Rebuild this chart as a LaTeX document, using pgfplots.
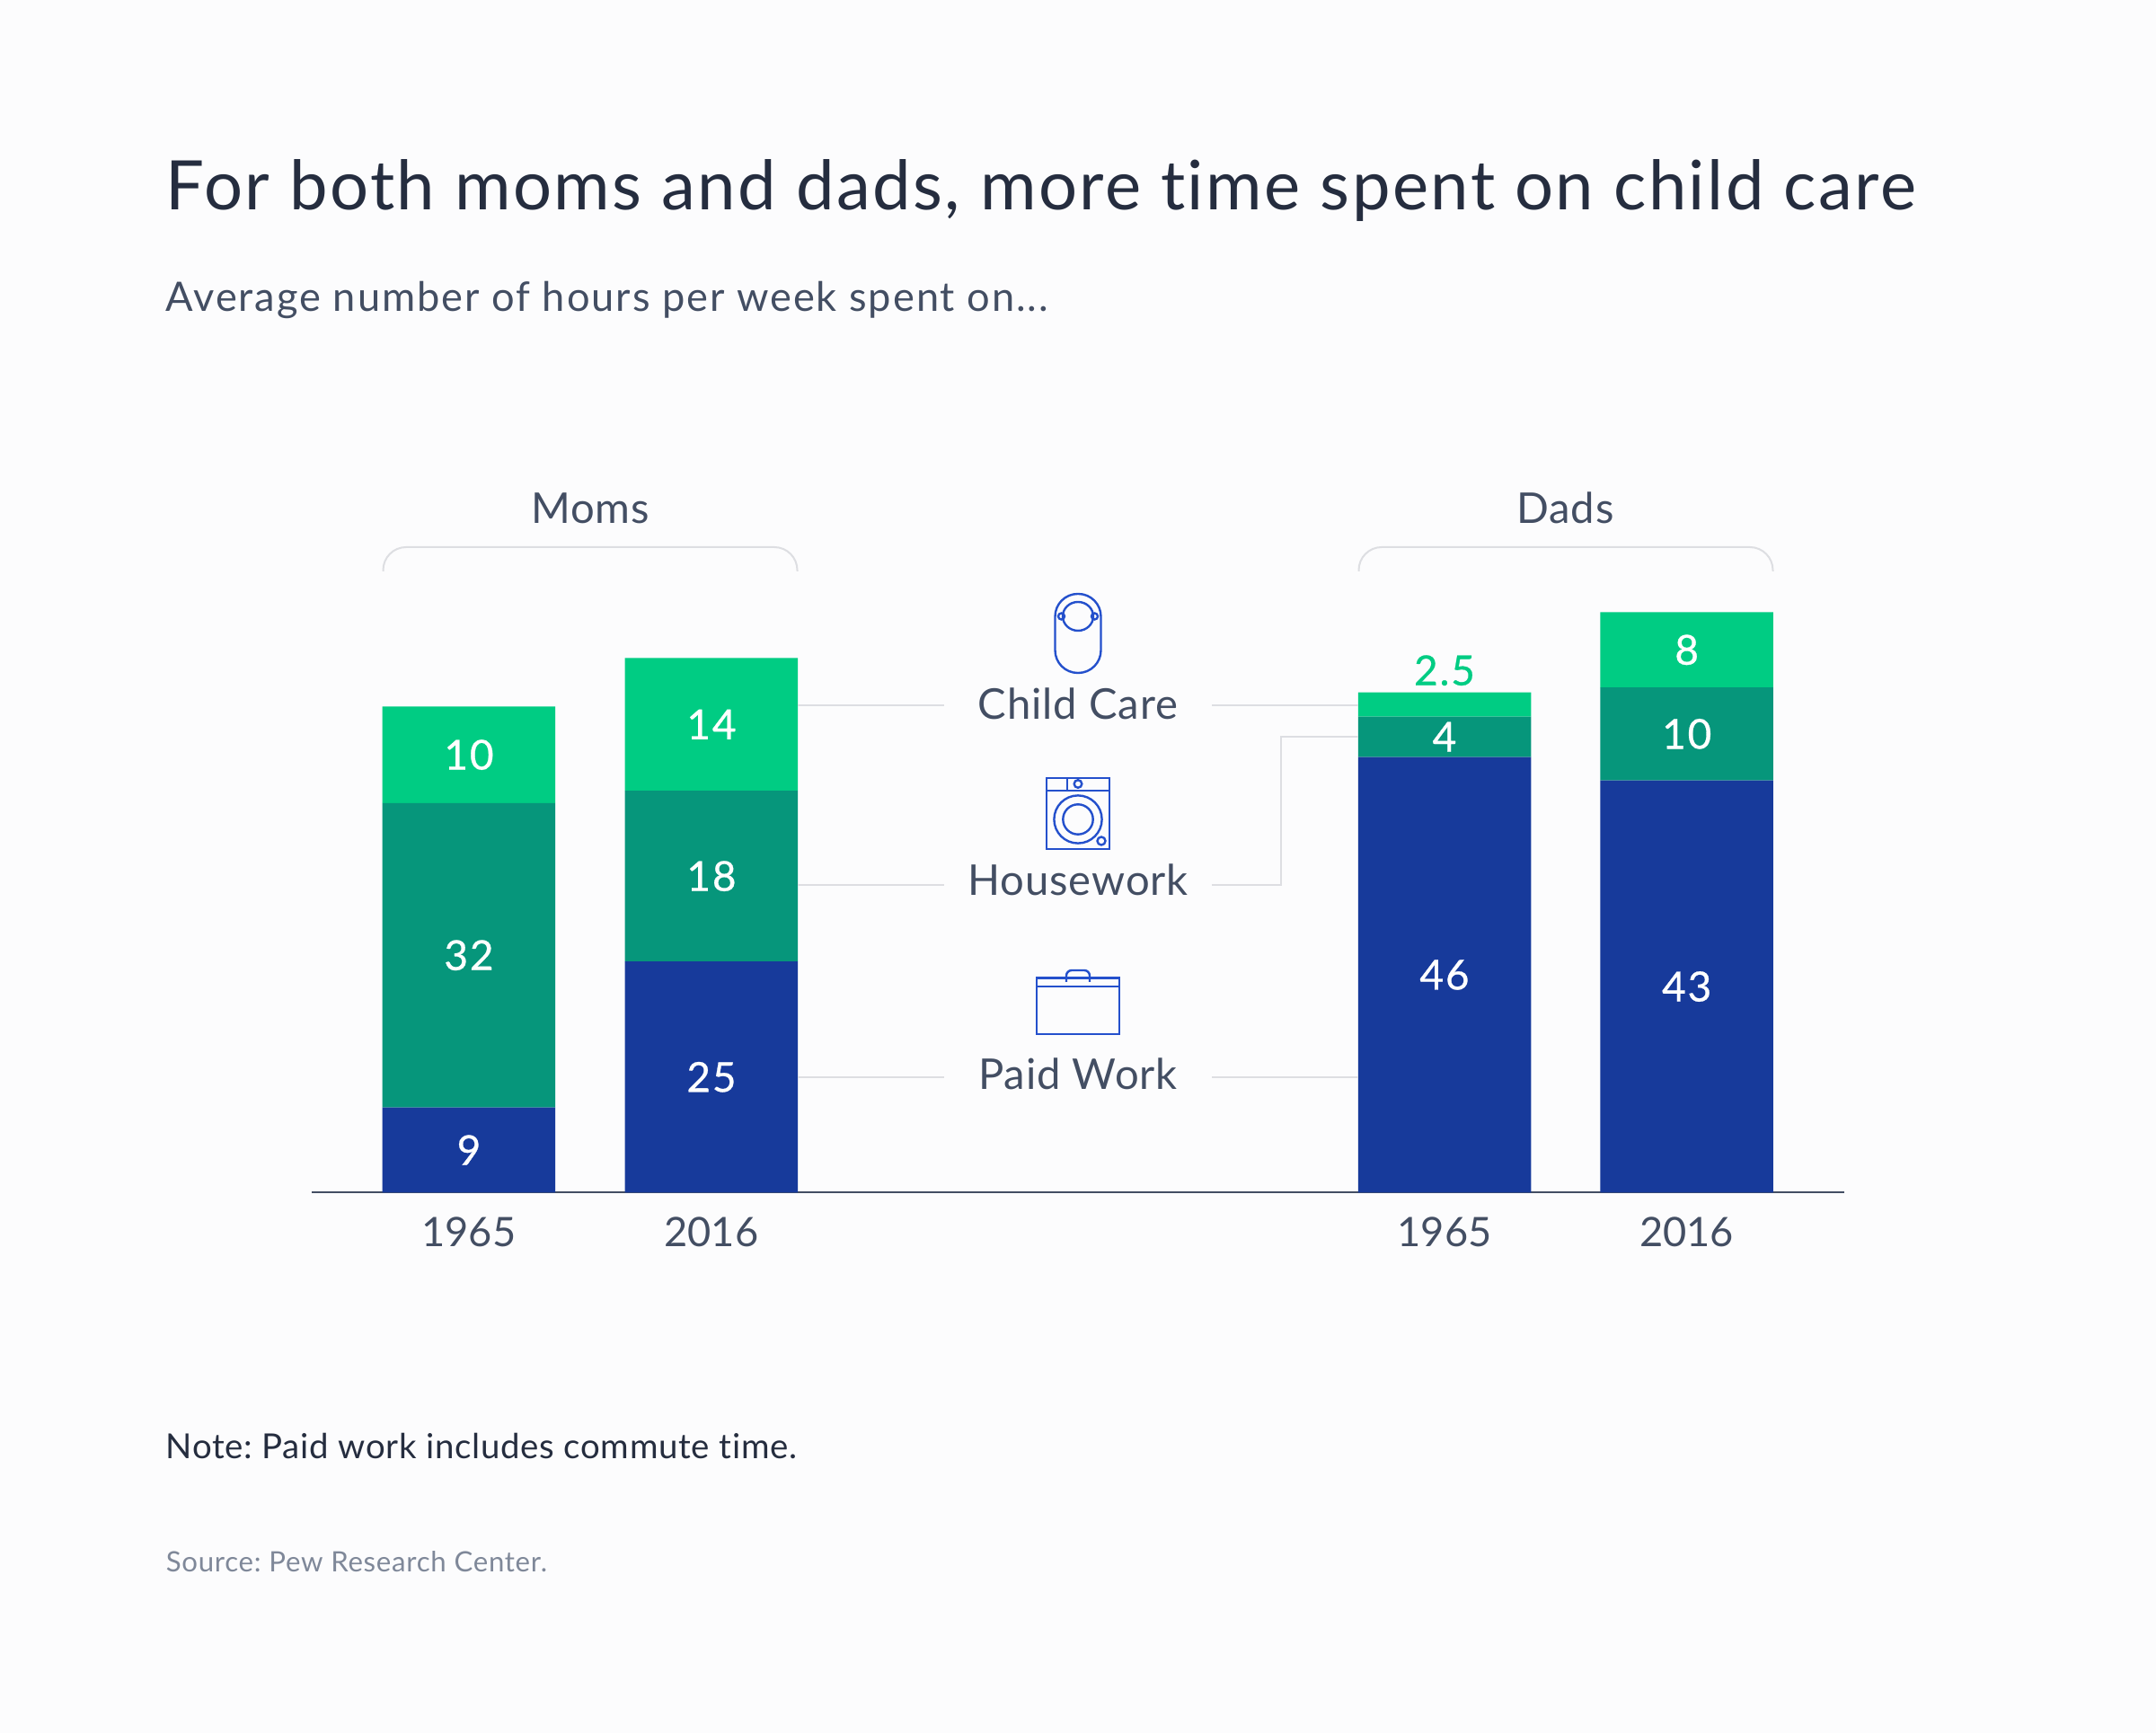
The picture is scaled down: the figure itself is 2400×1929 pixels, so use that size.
\documentclass[border=0pt]{standalone}
\usepackage{fontspec}
\usepackage{pgfplots}
\usepackage{pgfplotstable}
\pgfplotsset{compat=1.18}
\setmainfont{Lato}[Ligatures=CommonOff]
\newfontfamily\titlefont{Lato}[Ligatures=CommonOff,LetterSpace=3.25]
\newfontfamily\subfont{Lato}[Ligatures=CommonOff,LetterSpace=4.3]
\newfontfamily\notefont{Lato}[Ligatures=CommonOff,LetterSpace=1.8]
\newfontfamily\srcfont{Lato}[Ligatures=CommonOff,LetterSpace=2.3]
\newfontfamily\labfont{Lato}[Ligatures=CommonOff,LetterSpace=2]
\newfontfamily\valfont{Lato}[FakeBold=0.6,LetterSpace=4]
\frenchspacing

\definecolor{bgc}{HTML}{FCFCFD}
\definecolor{child}{HTML}{00CC83}
\definecolor{house}{HTML}{06967B}
\definecolor{paid}{HTML}{173A9B}
\definecolor{ink}{HTML}{252D3F}
\definecolor{slate}{HTML}{434E63}
\definecolor{mute}{HTML}{7F8899}
\definecolor{rule}{HTML}{DDDEE2}
\definecolor{icon}{HTML}{2450CC}

% x = bar position, h = bar height, lab = printed value
\pgfplotstableread{
x h lab
0 9.0 9
1 24.4 25
4.0222 45.95 46
5.0211 43.5 43
}\paidwork
\pgfplotstableread{
x h lab
0 32.1 32
1 18.0 18
4.0222 4.27 4
5.0211 9.8 10
}\housework
\pgfplotstableread{
x h lab
0 10.2 10
1 14.0 14
4.0222 2.56 {}
5.0211 7.94 8
}\childcare

\begin{document}
\begin{tikzpicture}[x=0.25pt,y=0.25pt]
\fill[bgc] (0,0) rectangle (2400,1929);
\begin{axis}[
    at={(86.75pt,150.375pt)},
    anchor=south west,
    scale only axis,
    width=426.375pt,
    height=163.525pt,
    xmin=-0.6481, xmax=5.6685,
    ymin=0, ymax=62,
    ybar stacked,
    bar width=48.125pt,
    clip=false,
    axis x line*=bottom,
    axis y line=none,
    x axis line style={color=slate,line width=0.5pt},
    major tick length=0pt,
    xtick={0,1,4.0222,5.0211},
    xticklabels={1965,2016,1965,2016},
    xticklabel style={font=\fontsize{11.3}{13}\selectfont,text=slate,yshift=-3.4pt},
    point meta=explicit symbolic,
    nodes near coords,
    every node near coord/.style={anchor=center,inner sep=0pt,text=white,
        font=\fontsize{11.5}{13}\valfont},
]
\addplot[fill=paid,draw=none] table[x=x,y=h,meta=lab] {\paidwork};
\addplot[fill=house,draw=none] table[x=x,y=h,meta=lab] {\housework};
\addplot[fill=child,draw=none] table[x=x,y=h,meta=lab] {\childcare};
\node[anchor=center,inner sep=0pt,text=child,font=\fontsize{11.5}{13}\valfont] at (axis cs:4.0222,55.1) {2.5};
\end{axis}

\begin{scope}[yscale=-1,yshift=-1929*0.25pt]
% titles and notes
\node[anchor=base west,inner sep=0pt,text=ink,font=\fontsize{19}{22}\titlefont] at (184,234) {For both moms and dads, more time spent on child care};
\node[anchor=base west,inner sep=0pt,text=slate,font=\fontsize{11.3}{13}\subfont] at (184,346.5) {Average number of hours per week spent on...};
\node[anchor=base west,inner sep=0pt,text=ink,font=\fontsize{9.6}{12}\notefont] at (184,1623.5) {Note: Paid work includes commute time.};
\node[anchor=base west,inner sep=0pt,text=mute,font=\fontsize{7.8}{9}\srcfont] at (184,1749) {Source: Pew Research Center.};
% group heads
\node[anchor=base,inner sep=0pt,text=slate,font=\fontsize{11.8}{13}\labfont] at (657,583) {Moms};
\node[anchor=base,inner sep=0pt,text=slate,font=\fontsize{11.8}{13}\labfont] at (1742.5,583) {Dads};
\draw[rule,line width=0.5pt,rounded corners=6.4pt] (426.5,636) -- (426.5,609) -- (887.5,609) -- (887.5,636);
\draw[rule,line width=0.5pt,rounded corners=6.4pt] (1512.5,636) -- (1512.5,609) -- (1973.5,609) -- (1973.5,636);
% leader lines
\draw[rule,line width=0.5pt] (888,785) -- (1051,785) (1349,785) -- (1512,785);
\draw[rule,line width=0.5pt] (888,985) -- (1051,985) (1349,985) -- (1426,985) -- (1426,820) -- (1512,820);
\draw[rule,line width=0.5pt] (888,1199) -- (1051,1199) (1349,1199) -- (1512,1199);
% category names
\node[anchor=base,inner sep=0pt,text=slate,font=\fontsize{11.8}{13}\labfont] at (1200,801) {Child Care};
\node[anchor=base,inner sep=0pt,text=slate,font=\fontsize{11.8}{13}\labfont] at (1200,997) {Housework};
\node[anchor=base,inner sep=0pt,text=slate,font=\fontsize{11.8}{13}\labfont] at (1200,1213) {Paid Work};
% icons
\begin{scope}[icon,line width=0.6pt]
\draw[rounded corners=6.3pt] (1174.5,661) rectangle (1225.5,749);
\draw (1200,686) ellipse (17 and 16);
\draw (1181.5,686) circle (3.5);
\draw (1218.5,686) circle (3.5);
\draw (1165,866) rectangle (1235,945);
\draw (1165,880) -- (1235,880) (1188,866) -- (1188,880);
\draw (1200,872.5) circle (4.3);
\draw (1200,912) circle (26.6);
\draw (1200,912) circle (16.7);
\draw (1226,936) circle (4.5);
\draw (1154,1088.5) rectangle (1246,1151);
\draw (1154,1098) -- (1246,1098);
\draw[rounded corners=1.5pt] (1187,1093) -- (1187,1080) -- (1213,1080) -- (1213,1093);
\end{scope}
\end{scope}
\end{tikzpicture}
\end{document}
